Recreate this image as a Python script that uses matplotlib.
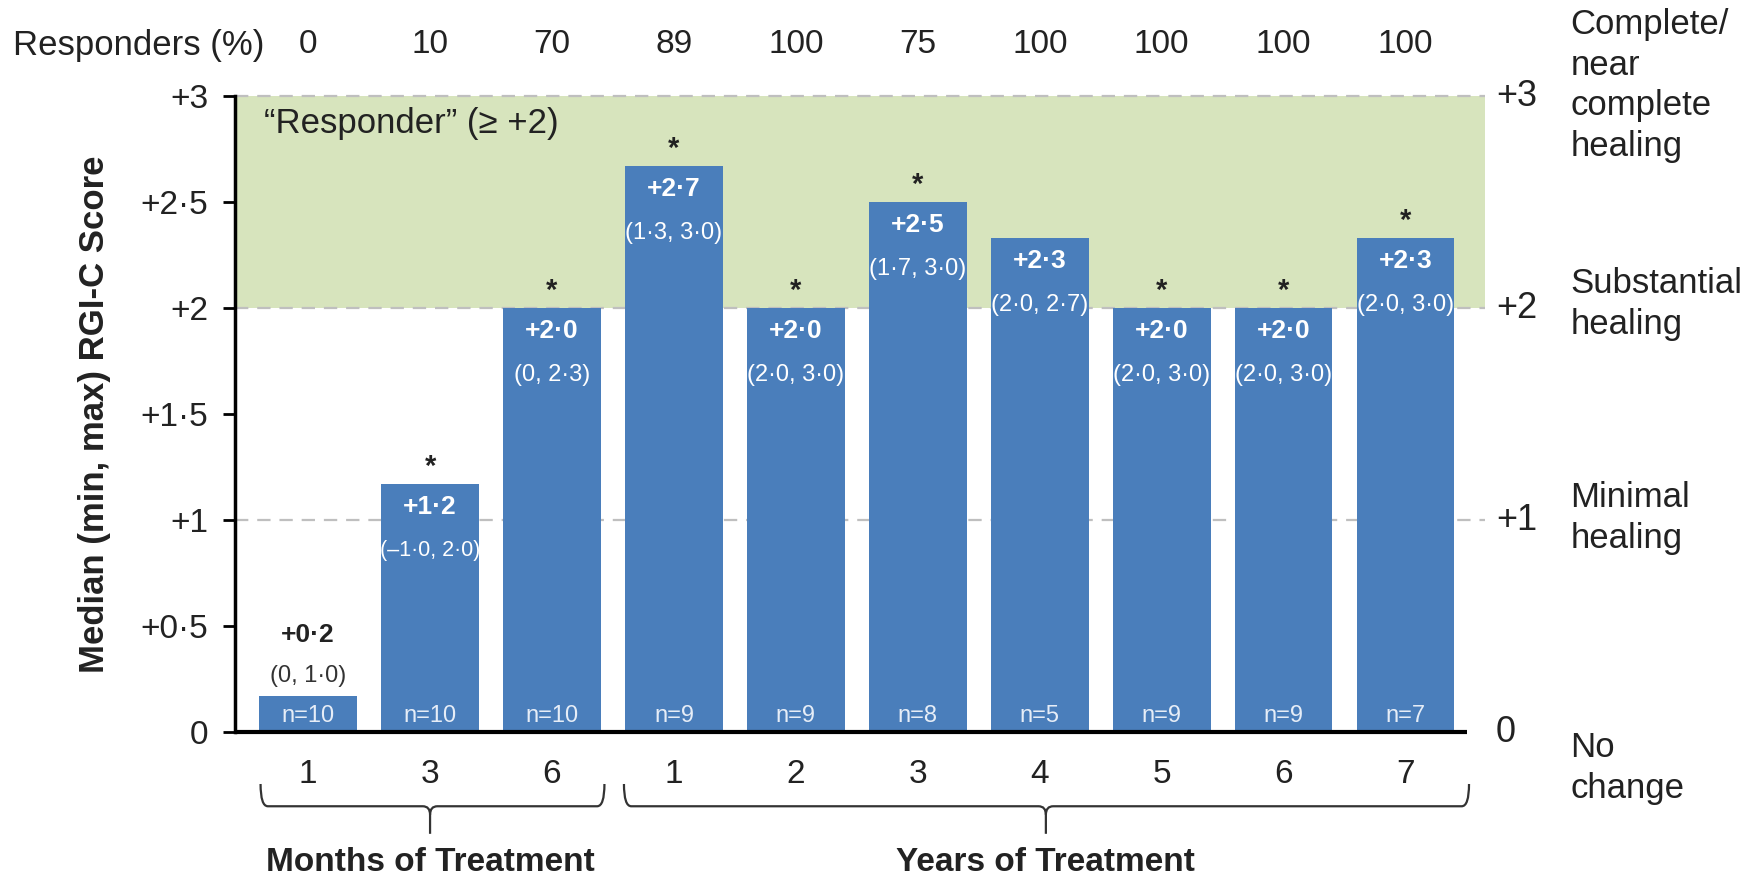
import numpy as np
import matplotlib
matplotlib.use("Agg")
import matplotlib.pyplot as plt
from matplotlib.path import Path
from matplotlib.patches import PathPatch, Rectangle

plt.rcParams['font.family'] = ['Liberation Sans', 'DejaVu Sans']

# data
period_labels = ['1', '3', '6', '1', '2', '3', '4', '5', '6', '7']
medians = [0.17, 1.17, 2.0, 2.67, 2.0, 2.5, 2.33, 2.0, 2.0, 2.33]
median_text = ['+0·2', '+1·2', '+2·0', '+2·7', '+2·0', '+2·5', '+2·3', '+2·0', '+2·0', '+2·3']
range_text = ['(0, 1·0)', '(–1·0, 2·0)', '(0, 2·3)', '(1·3, 3·0)', '(2·0, 3·0)',
              '(1·7, 3·0)', '(2·0, 2·7)', '(2·0, 3·0)', '(2·0, 3·0)', '(2·0, 3·0)']
n_patients = [10, 10, 10, 9, 9, 8, 5, 9, 9, 7]
significant = [False, True, True, True, True, True, False, True, True, True]
responders = [0, 10, 70, 89, 100, 75, 100, 100, 100, 100]

y_ticks = [0, 0.5, 1, 1.5, 2, 2.5, 3]
y_tick_labels = ['0', '+0·5', '+1', '+1·5', '+2', '+2·5', '+3']
right_levels = [3, 2, 1, 0]
right_labels = ['+3', '+2', '+1', '0']
right_desc = ['Complete/\nnear\ncomplete\nhealing', 'Substantial\nhealing',
              'Minimal\nhealing', 'No\nchange']

BAR = '#4a7ebb'
GREEN = '#d7e4bd'
GRID = '#bfbfbf'
INK = '#222222'

fig = plt.figure(figsize=(17.56, 8.82), dpi=100)
ax = fig.add_axes([0.1338, 0.170, 0.7118, 0.7211])
x = np.arange(len(medians))
xmin, xmax = -0.6, 9.65
ax.set_xlim(xmin, xmax)
ax.set_ylim(0, 3)

# responder zone and reference lines
ax.add_patch(Rectangle((xmin, 2), xmax - xmin, 1, facecolor=GREEN, edgecolor='none', zorder=0))
for lv in [1, 2, 3]:
    ax.axhline(lv, color=GRID, lw=1.6, ls=(0, (6, 4)), zorder=1, clip_on=False)

ax.bar(x, medians, width=0.8, color=BAR, zorder=2)

# baseline
ax.plot([xmin, 9.5], [0, 0], color='black', lw=3, zorder=3, clip_on=False,
        solid_capstyle='butt')

for i, m in enumerate(medians):
    rng_size = 15.5 if len(range_text[i]) > 10 else 17
    if m > 1:
        ax.text(i, m - 0.11, median_text[i], ha='center', va='center', color='white',
                fontsize=19, fontweight='bold', zorder=4)
        ax.text(i, m - 0.315, range_text[i], ha='center', va='center', color='white',
                fontsize=rng_size, zorder=4)
    else:
        ax.text(i, m + 0.29, median_text[i], ha='center', va='center', color=INK,
                fontsize=19, fontweight='bold', zorder=4)
        ax.text(i, m + 0.095, range_text[i], ha='center', va='center', color='#333333',
                fontsize=rng_size, zorder=4)
    if significant[i]:
        ax.text(i, m + 0.015, '*', ha='center', va='bottom', color=INK,
                fontsize=21, fontweight='bold', zorder=4)
    ax.text(i, 0.075, f'n={n_patients[i]}', ha='center', va='center', color='#e6edf7',
            fontsize=17, zorder=4)
    ax.text(i, -0.2, period_labels[i], ha='center', va='center', fontsize=24,
            color=INK, clip_on=False)
    ax.text(i, 3.245, str(responders[i]), ha='center', va='center', fontsize=24,
            color=INK, clip_on=False)

fig.text(13 / 1756, 1 - 45 / 882, 'Responders (%)', ha='left', va='center',
         fontsize=25, color=INK)
ax.text(-0.36, 2.87, '\u201cResponder\u201d (\u2265 +2)', ha='left', va='center',
        fontsize=25, color=INK)

# y axis
ax.set_yticks(y_ticks)
ax.set_yticklabels(y_tick_labels, fontsize=24, color=INK)
ax.tick_params(axis='y', direction='out', length=9, width=2, pad=10)
ax.set_xticks([])
for s in ['top', 'right', 'bottom']:
    ax.spines[s].set_visible(False)
ax.spines['left'].set_linewidth(2.5)
fig.text(95 / 1756, 1 - 414 / 882, 'Median (min, max) RGI-C Score', rotation=90,
         ha='center', va='center', fontsize=25, fontweight='bold', color=INK)

# right side scale
desc_y = [3.05, 2.02, 1.01, -0.17]
for lv, lab, desc, dy in zip(right_levels, right_labels, right_desc, desc_y):
    ax.text(9.74, lv, lab, ha='left', va='center', fontsize=26, color=INK, clip_on=False)
    ax.text(10.35, dy, desc, ha='left', va='center', fontsize=25,
            color=INK, linespacing=1.3, clip_on=False)


def brace(x0, x1, xm, ytop, ybot, ytip, dx=0.06, dy=0.04):
    verts = [(x0, ytop), (x0, ybot), (x0 + dx, ybot),
             (xm - dx, ybot), (xm, ybot), (xm, ybot - dy),
             (xm, ytip),
             (xm, ybot - dy), (xm, ybot), (xm + dx, ybot),
             (x1 - dx, ybot), (x1, ybot), (x1, ytop)]
    codes = [Path.MOVETO, Path.CURVE3, Path.CURVE3,
             Path.LINETO, Path.CURVE3, Path.CURVE3,
             Path.LINETO,
             Path.MOVETO, Path.CURVE3, Path.CURVE3,
             Path.LINETO, Path.CURVE3, Path.CURVE3]
    ax.add_patch(PathPatch(Path(verts, codes), facecolor='none', edgecolor='#333333',
                           lw=1.6, clip_on=False))


brace(-0.39, 2.43, 1.0, -0.245, -0.35, -0.48)
brace(2.59, 9.52, 6.05, -0.245, -0.35, -0.48)
ax.text(1.0, -0.615, 'Months of Treatment', ha='center', va='center', fontsize=24,
        fontweight='bold', color=INK, clip_on=False)
ax.text(6.05, -0.615, 'Years of Treatment', ha='center', va='center', fontsize=24,
        fontweight='bold', color=INK, clip_on=False)

fig.savefig('out.png', dpi=100)
